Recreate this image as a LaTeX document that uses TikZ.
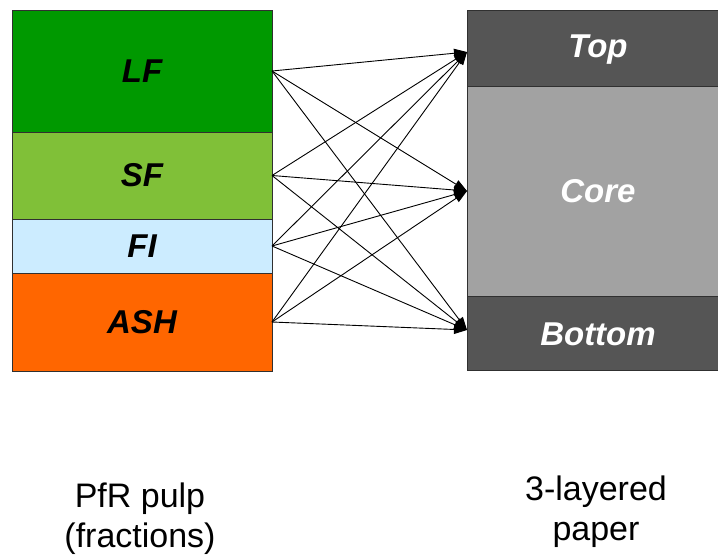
\documentclass[tikz,border=0pt]{standalone}
\usepackage{fontspec}
\setmainfont{Liberation Sans}
\usetikzlibrary{arrows.meta}
\definecolor{lfgreen}{HTML}{009900}
\definecolor{sfgreen}{HTML}{80C038}
\definecolor{fiblue}{HTML}{CCECFF}
\definecolor{ashorange}{HTML}{FF6600}
\definecolor{darklayer}{HTML}{555555}
\definecolor{corelayer}{HTML}{A2A2A2}
\definecolor{edgegray}{HTML}{303030}
\tikzset{
  block/.style={draw=edgegray, line width=1pt, anchor=north west, outer sep=0pt, inner sep=0pt,
    font=\fontsize{33}{33}\selectfont\bfseries\itshape},
  leftblock/.style={block, minimum width=260pt, text=black},
  rightblock/.style={block, minimum width=270pt, text=white},
  flow/.style={line width=0.9pt, draw=black, -{Triangle[length=13pt,width=9pt]}},
  caption/.style={align=center, font=\fontsize{34}{40}\selectfont},
  layerlab/.style={text=white, font=\fontsize{33}{33}\selectfont\bfseries\itshape}
}
\begin{document}
\begin{tikzpicture}[x=1pt,y=-1pt]
\useasboundingbox (0,0) rectangle (718,557);
\node[leftblock, fill=lfgreen, minimum height=122pt] (LF) at (12,10) {LF};
\node[leftblock, fill=sfgreen, minimum height=87pt] (SF) at (12,132) {SF};
\node[leftblock, fill=fiblue, minimum height=54pt] (FI) at (12,219) {FI};
\node[leftblock, fill=ashorange, minimum height=98pt] (ASH) at (12,273) {ASH};
\node[rightblock, fill=darklayer, minimum height=76pt] (Top) at (467,10) {};
\node[rightblock, fill=corelayer, minimum height=210pt] (Core) at (467,86) {};
\node[rightblock, fill=darklayer, minimum height=74pt] (Bottom) at (467,296) {};
\node[layerlab] (toplab) at (598,50) {Top};
\node[layerlab] (corelab) at (598,191) {Core};
\node[layerlab] (bottomlab) at (598,334) {Bottom};
\coordinate (tin) at ([yshift=-4pt]Top.west);
\coordinate (cin) at (Core.west);
\coordinate (bin) at ([yshift=3pt]Bottom.west);
\foreach \s in {LF,SF,FI,ASH}{
  \foreach \t in {tin,cin,bin}{
    \draw[flow] (\s.east) -- (\t);
  }
}
\node[caption] (leftcap) at (140,519) {PfR pulp\\(fractions)};
\node[caption] (rightcap) at (596,512) {3-layered\\paper};
\end{tikzpicture}
\end{document}
